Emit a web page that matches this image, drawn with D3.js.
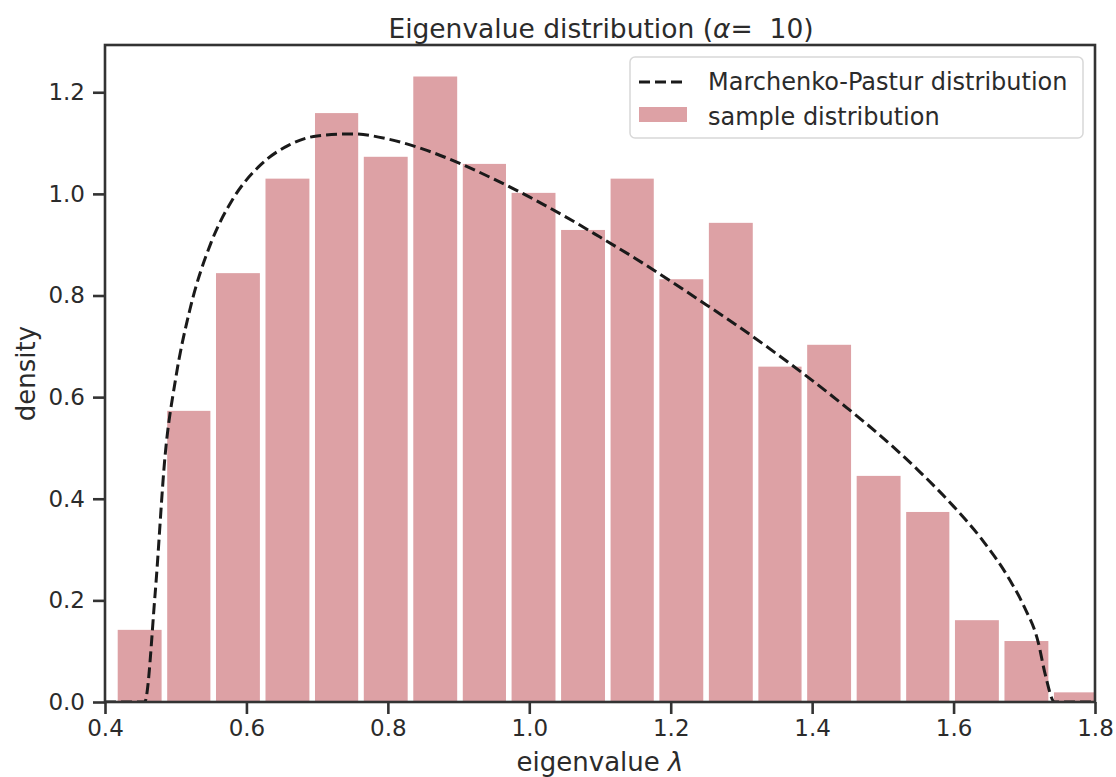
<!DOCTYPE html>
<html>
<head>
<meta charset="utf-8">
<script src="https://cdn.jsdelivr.net/npm/d3@7"></script>
<style>
  body { margin: 0; background: #fff; }
  svg text { font-family: "DejaVu Sans", sans-serif; fill: #2b2b2b; }
</style>
</head>
<body>
<div id="chart"></div>
<script>
// histogram of sample eigenvalues (density), 20 bins
const binEdges = [0.414, 0.484, 0.553, 0.623, 0.693, 0.762, 0.832, 0.902, 0.971, 1.041,
                  1.111, 1.180, 1.250, 1.320, 1.389, 1.459, 1.529, 1.598, 1.668, 1.738, 1.808];
const sampleDensity = [0.142, 0.573, 0.844, 1.030, 1.159, 1.073, 1.231, 1.059, 1.002, 0.929,
                       1.030, 0.832, 0.943, 0.660, 0.703, 0.445, 0.374, 0.161, 0.120, 0.019];

// Marchenko-Pastur curve
const mpLambda = [0.40, 0.456, 0.471, 0.485, 0.50, 0.52, 0.55, 0.58, 0.62, 0.66, 0.70, 0.75,
                  0.80, 0.85, 0.90, 0.95, 1.00, 1.05, 1.10, 1.15, 1.20, 1.25, 1.30, 1.35,
                  1.40, 1.45, 1.50, 1.55, 1.60, 1.64, 1.68, 1.70, 1.72, 1.729, 1.743, 1.80];
const mpDensity = [0, 0, 0.215, 0.485, 0.637, 0.772, 0.904, 0.988, 1.057, 1.096, 1.114, 1.118,
                   1.108, 1.088, 1.061, 1.029, 0.994, 0.956, 0.915, 0.873, 0.828, 0.782, 0.735, 0.685,
                   0.633, 0.578, 0.520, 0.456, 0.385, 0.320, 0.239, 0.187, 0.116, 0.058, 0, 0];

const xTicks = [0.4, 0.6, 0.8, 1.0, 1.2, 1.4, 1.6, 1.8];
const yTicks = [0.0, 0.2, 0.4, 0.6, 0.8, 1.0, 1.2];
const legendLabels = ["Marchenko-Pastur distribution", "sample distribution"];

const width = 1116, height = 777;
const plot = { left: 105, right: 1095, top: 45, bottom: 702 };
const barColor = "#dda1a5";
const spineColor = "#333";

const svg = d3.select("#chart").append("svg")
    .attr("width", width)
    .attr("height", height);

const x = d3.scaleLinear().domain([0.4, 1.8]).range([plot.left, plot.right]);
const y = d3.scaleLinear().domain([0, 1.293]).range([plot.bottom, plot.top]);

svg.append("clipPath").attr("id", "plotClip")
  .append("rect")
    .attr("x", plot.left).attr("y", plot.top)
    .attr("width", plot.right - plot.left)
    .attr("height", plot.bottom - plot.top);

const inner = svg.append("g").attr("clip-path", "url(#plotClip)");

// bars with white gaps between them
const gap = 5.6;
inner.selectAll("rect.bar")
  .data(sampleDensity)
  .join("rect")
    .attr("class", "bar")
    .attr("x", (d, i) => x(binEdges[i]) + gap / 2)
    .attr("width", (d, i) => x(binEdges[i + 1]) - x(binEdges[i]) - gap)
    .attr("y", d => y(d))
    .attr("height", d => y(0) - y(d))
    .attr("fill", barColor);

const line = d3.line()
    .x((d, i) => x(mpLambda[i]))
    .y(d => y(d))
    .curve(d3.curveMonotoneX);

inner.append("path")
    .datum(mpDensity)
    .attr("d", line)
    .attr("fill", "none")
    .attr("stroke", "#1a1a1a")
    .attr("stroke-width", 3)
    .attr("stroke-dasharray", "11,5");

// axes
const xAxis = svg.append("g")
    .attr("transform", `translate(0,${plot.bottom})`)
    .call(d3.axisBottom(x).tickValues(xTicks).tickFormat(d3.format(".1f")).tickSize(12).tickPadding(6));
const yAxis = svg.append("g")
    .attr("transform", `translate(${plot.left},0)`)
    .call(d3.axisLeft(y).tickValues(yTicks).tickFormat(d3.format(".1f")).tickSize(12).tickPadding(8));

[xAxis, yAxis].forEach(g => {
  g.select(".domain").remove();
  g.selectAll(".tick line").attr("stroke", spineColor).attr("stroke-width", 2.6);
  g.selectAll(".tick text").attr("font-size", "23px").attr("fill", "#2b2b2b");
});

// frame
svg.append("rect")
    .attr("x", plot.left).attr("y", plot.top)
    .attr("width", plot.right - plot.left)
    .attr("height", plot.bottom - plot.top)
    .attr("fill", "none")
    .attr("stroke", spineColor)
    .attr("stroke-width", 2.6);

// title
const title = svg.append("text")
    .attr("x", 601)
    .attr("y", 38)
    .attr("text-anchor", "middle")
    .attr("font-size", "26.5px");
title.append("tspan").text("Eigenvalue distribution (");
title.append("tspan").attr("font-style", "italic").text("α");
title.append("tspan").text("=\u00a0\u00a010)");

// axis labels
const xLabel = svg.append("text")
    .attr("x", (plot.left + plot.right) / 2)
    .attr("y", 771)
    .attr("text-anchor", "middle")
    .attr("font-size", "26px");
xLabel.append("tspan").text("eigenvalue ");
xLabel.append("tspan").attr("font-style", "italic").text("λ");

svg.append("text")
    .attr("transform", `translate(35,${(plot.top + plot.bottom) / 2}) rotate(-90)`)
    .attr("text-anchor", "middle")
    .attr("font-size", "26px")
    .text("density");

// legend
const legend = svg.append("g");
legend.append("rect")
    .attr("x", 630).attr("y", 57)
    .attr("width", 453).attr("height", 81)
    .attr("rx", 5)
    .attr("fill", "#fff").attr("fill-opacity", 0.8)
    .attr("stroke", "#d8d8d8").attr("stroke-width", 1.5);
legend.append("line")
    .attr("x1", 639).attr("x2", 687)
    .attr("y1", 82).attr("y2", 82)
    .attr("stroke", "#1a1a1a").attr("stroke-width", 3)
    .attr("stroke-dasharray", "11,5");
legend.append("rect")
    .attr("x", 639).attr("y", 107)
    .attr("width", 48).attr("height", 15)
    .attr("fill", barColor);
legend.selectAll("text.lab")
  .data(legendLabels)
  .join("text")
    .attr("class", "lab")
    .attr("x", 708)
    .attr("y", (d, i) => 90 + i * 35)
    .attr("font-size", "24px")
    .text(d => d);
</script>
</body>
</html>
